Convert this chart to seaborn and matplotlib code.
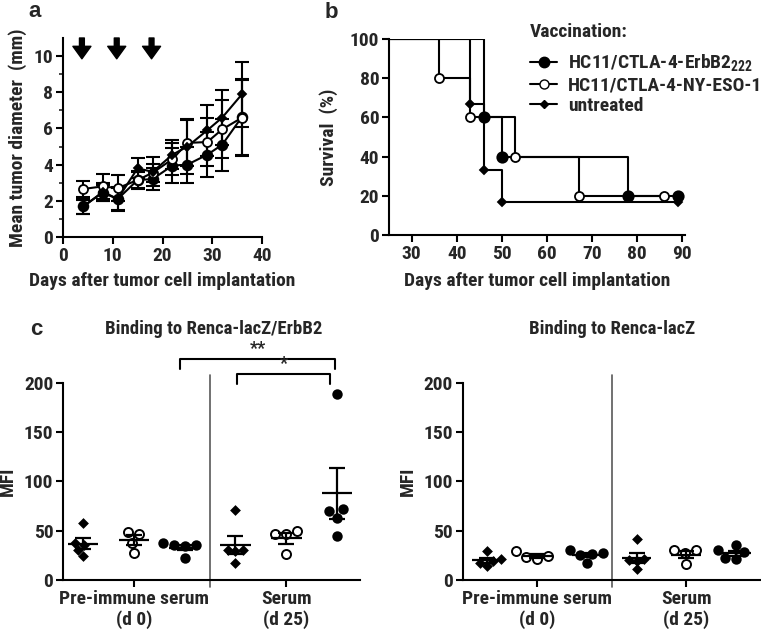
import numpy as np
import pandas as pd
import matplotlib
matplotlib.use("Agg")
import matplotlib.pyplot as plt
from matplotlib.lines import Line2D
import seaborn as sns

# panel a: tumor growth (mean +/- SEM)
days = [4, 8, 11, 15, 18, 22, 25, 29, 32, 36]
erbb2_mean = [1.7, 2.45, 2.1, 3.15, 3.2, 3.95, 4.0, 4.55, 5.1, 6.65]
erbb2_sem = [0.45, 0.45, 0.65, 0.45, 0.6, 0.95, 1.0, 1.25, 1.45, 2.1]
nyeso_mean = [2.65, 2.8, 2.7, 3.15, 3.55, 4.3, 5.2, 5.25, 5.95, 6.6]
nyeso_sem = [0.45, 0.7, 0.7, 0.5, 0.5, 0.9, 1.25, 1.35, 1.6, 2.1]
untr_mean = [1.65, 2.5, 2.1, 3.8, 3.6, 4.55, 5.0, 5.9, 6.6, 7.9]
untr_sem = [0.4, 0.5, 0.6, 0.55, 0.8, 0.8, 1.5, 1.4, 1.5, 1.8]
vacc_days = [4, 11, 18]

# panel b: survival (Kaplan-Meier steps)
erbb2_t = [0, 46, 50, 78, 89]
erbb2_s = [100, 60, 40, 20, 20]
nyeso_t = [0, 36, 43, 53, 67, 86]
nyeso_s = [100, 80, 60, 40, 20, 20]
untr_t = [0, 43, 46, 50, 89]
untr_s = [100, 66.7, 33.3, 16.7, 16.7]

# panel c: MFI per mouse (pre-immune d0 / serum d25)
groups = ["Pre-immune serum\n(d 0)", "Serum\n(d 25)"]
erb_untr = [[58, 35, 37, 30, 24], [71, 30, 30, 29, 17]]
erb_nyeso = [[49, 47, 38, 27], [47, 47, 50, 26]]
erb_erbb2 = [[35, 35, 37, 34, 22], [189, 70, 72, 63, 45]]
lac_untr = [[29, 21, 19, 17, 14], [42, 20, 21, 19, 11]]
lac_nyeso = [[24, 21, 29, 23], [30, 30, 27, 16]]
lac_erbb2 = [[26, 27, 30, 25, 17], [30, 35, 28, 22, 21]]

sns.set_style("ticks")
plt.rcParams["font.family"] = ["Roboto Condensed", "Liberation Sans", "DejaVu Sans"]
plt.rcParams["font.weight"] = "bold"
plt.rcParams["axes.labelweight"] = "bold"
plt.rcParams["mathtext.fontset"] = "custom"
plt.rcParams["mathtext.rm"] = "Roboto Condensed:bold"
plt.rcParams["mathtext.bf"] = "Roboto Condensed:bold"
plt.rcParams["mathtext.it"] = "Roboto Condensed:bold"
plt.rcParams["axes.linewidth"] = 1.5
plt.rcParams["xtick.major.width"] = 1.5
plt.rcParams["ytick.major.width"] = 1.5
plt.rcParams["ytick.minor.width"] = 1.2
plt.rcParams["xtick.major.size"] = 5
plt.rcParams["ytick.major.size"] = 5
plt.rcParams["ytick.minor.size"] = 3
FS = 14
plt.rcParams["font.size"] = FS

fig = plt.figure(figsize=(7.61, 6.33), dpi=100)
W, H = 761, 633


def box(x0, ytop, x1, ybot):
    return [x0 / W, 1 - ybot / H, (x1 - x0) / W, (ybot - ytop) / H]


def style(ax):
    sns.despine(ax=ax)
    ax.tick_params(labelsize=FS, pad=2, color="k")
    for s in ax.spines.values():
        s.set_color("k")


# ---- a ----
ax = fig.add_axes(box(63, 38, 262, 237))
series_a = [(erbb2_mean, erbb2_sem, "o", "k", 7), (nyeso_mean, nyeso_sem, "o", "white", 6.5),
            (untr_mean, untr_sem, "D", "k", 4.5)]
for mean, sem, mk, fc, ms in series_a:
    ax.errorbar(days, mean, yerr=sem, fmt="none", ecolor="k", elinewidth=1.5, capsize=5, capthick=1.5)
    sns.lineplot(x=days, y=mean, ax=ax, color="k", lw=1.5, marker=mk, markersize=ms,
                 markerfacecolor=fc, markeredgecolor="k", markeredgewidth=1.3, zorder=3)
for d in vacc_days:
    ax.annotate("", xy=(d - 0.2, 9.85), xytext=(d - 0.2, 11.0),
                arrowprops=dict(width=3.5, headwidth=13, headlength=9, color="k"))
ax.set_xlim(0, 40)
ax.set_ylim(0, 11)
ax.set_xticks([0, 10, 20, 30, 40])
ax.set_yticks([0, 2, 4, 6, 8, 10])
ax.set_yticks(np.arange(1, 11, 2), minor=True)
ax.set_xlabel("Days after tumor cell implantation", labelpad=5)
ax.set_ylabel("Mean tumor diameter  (mm)")
ax.yaxis.set_label_coords(-0.18, 0.5)
style(ax)

# ---- b ----
ax = fig.add_axes(box(389, 39, 685, 235))
series_b = [(erbb2_t, erbb2_s, "o", "k", 7.5), (nyeso_t, nyeso_s, "o", "white", 6.5),
            (untr_t, untr_s, "D", "k", 4.5)]
for t, s, mk, fc, ms in series_b:
    sns.lineplot(x=t, y=s, ax=ax, color="k", lw=1.5, drawstyle="steps-post", estimator=None)
    ax.plot(t[1:], s[1:], ls="none", marker=mk, markersize=ms, markerfacecolor=fc,
            markeredgecolor="k", markeredgewidth=1.3, zorder=3)
ax.set_xlim(25, 90.6)
ax.set_ylim(0, 100)
ax.set_xticks(range(30, 91, 10))
ax.set_yticks(range(0, 101, 20))
ax.set_xlabel("Days after tumor cell implantation", labelpad=7)
ax.set_ylabel("Survival  (%)")
ax.yaxis.set_label_coords(-0.172, 0.5)
style(ax)
handles = [Line2D([], [], color="k", lw=1.5, marker="o", markersize=7.5, markerfacecolor="k"),
           Line2D([], [], color="k", lw=1.5, marker="o", markersize=6.5, markerfacecolor="white"),
           Line2D([], [], color="k", lw=1.5, marker="D", markersize=4.5, markerfacecolor="k")]
leg = ax.legend(handles, ["HC11/CTLA-4-ErbB2$_{222}$", "HC11/CTLA-4-NY-ESO-1", "untreated"],
                title="Vaccination:", loc="upper left", bbox_to_anchor=(0.476, 1.08), frameon=False,
                fontsize=FS, title_fontsize=FS, handlelength=1.4, handletextpad=0.55,
                labelspacing=0.15, borderaxespad=0, borderpad=0)
leg._legend_box.align = "left"
leg._legend_box.sep = 8
leg.get_title().set_fontweight("bold")


# ---- c ----
def panel_c(ax, untr, nyeso, erbb2, brackets):
    rows = []
    kinds = ["untr", "nyeso", "erbb2"]
    for g in range(2):
        for kind, vals in zip(kinds, (untr[g], nyeso[g], erbb2[g])):
            rows += [dict(pos=g * 3 + kinds.index(kind), mfi=v, kind=kind) for v in vals]
    df = pd.DataFrame(rows)
    kw = dict(x="pos", y="mfi", native_scale=True, ax=ax, zorder=2)
    sns.swarmplot(data=df[df.kind == "untr"], marker="D", color="k", size=5.5, **kw)
    sns.swarmplot(data=df[df.kind == "nyeso"], marker="o", color="white", edgecolor="k",
                  linewidth=1.4, size=6.5, **kw)
    sns.swarmplot(data=df[df.kind == "erbb2"], marker="o", color="k", size=7.5, **kw)
    stats = df.groupby("pos")["mfi"].agg(["mean", "sem"])
    ax.hlines(stats["mean"], stats.index - 0.3, stats.index + 0.3, color="k", lw=1.6, zorder=4)
    ax.errorbar(stats.index, stats["mean"], yerr=stats["sem"], fmt="none", ecolor="k",
                elinewidth=1.6, capsize=6, capthick=1.6, zorder=4)
    ax.plot([2.5, 2.5], [-0.035, 1.04], transform=ax.get_xaxis_transform(), clip_on=False,
            color="0.35", lw=1.2)
    ax.set_ylim(0, 200)
    ax.set_yticks(range(0, 201, 50))
    ax.set_xticks([1, 4])
    ax.set_xticklabels(groups)
    ax.set_xlabel("")
    ax.set_ylabel("MFI")
    for x0, x1, ylo, yhi, lab in brackets:
        ax.plot([x0, x0, x1, x1], [ylo, yhi, yhi, ylo], color="k", lw=1.5, clip_on=False)
        ax.text((x0 + x1) / 2, yhi + 1, lab, ha="center", va="bottom", fontsize=13, clip_on=False)
    style(ax)


ax = fig.add_axes(box(63, 382.7, 360, 580))
panel_c(ax, erb_untr, erb_nyeso, erb_erbb2,
        [(1.91, 4.96, 213.5, 223.7, "**"), (3.03, 4.86, 198.7, 208.8, "*")])
ax.set_xlim(-0.394, 5.45)
ax.yaxis.set_label_coords(-0.155, 0.5)

ax = fig.add_axes(box(462.7, 382.7, 761, 580))
panel_c(ax, lac_untr, lac_nyeso, lac_erbb2, [])
ax.set_xlim(-0.49, 5.5)
ax.yaxis.set_label_coords(-0.153, 0.5)

fig.text(214 / W, 1 - 334 / H, "Binding to Renca-lacZ/ErbB2", ha="center", va="baseline", fontsize=13.5)
fig.text(612 / W, 1 - 334 / H, "Binding to Renca-lacZ", ha="center", va="baseline", fontsize=13.5)
for lab, x, y in (("a", 28, 17), ("b", 325, 18), ("c", 30, 335)):
    fig.text(x / W, 1 - y / H, lab, fontsize=16, fontweight="bold", family="Liberation Sans")

fig.savefig("out.png", dpi=100)
